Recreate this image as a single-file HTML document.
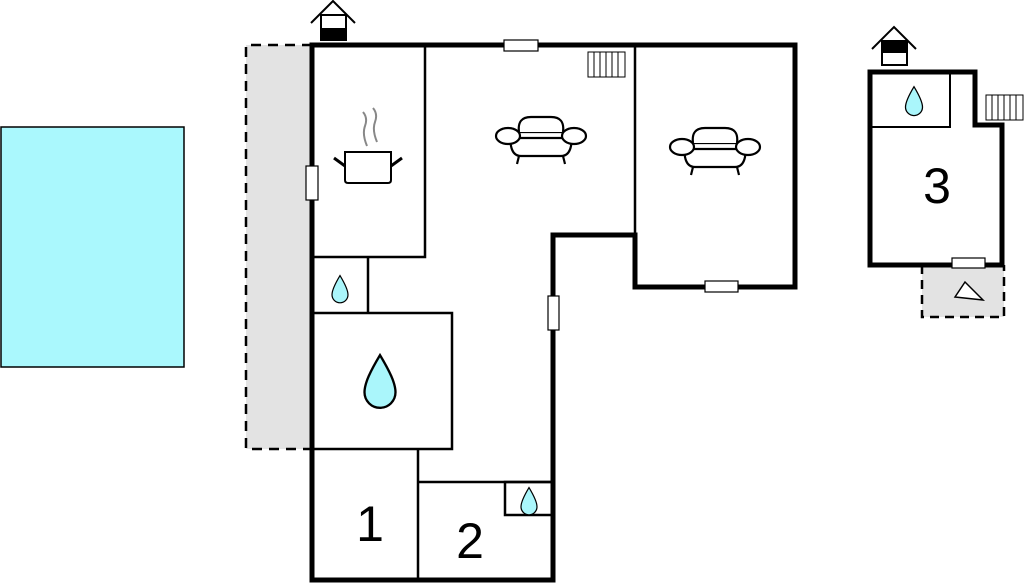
<!DOCTYPE html>
<html><head><meta charset="utf-8"><style>
html,body{margin:0;padding:0;background:#fff;}
svg{display:block;}
text{font-family:"Liberation Sans",sans-serif;}
</style></head><body>
<svg width="1024" height="584" viewBox="0 0 1024 584" xmlns="http://www.w3.org/2000/svg">
<defs>
<g id="drop"><path d="M0,-18 C6,-8 10,0 10,6 A10,10 0 0 1 -10,6 C-10,0 -6,-8 0,-18 Z" fill="#aaf6fb" stroke="#000" stroke-width="1.5"/></g>
<g id="sofa" fill="#fff" stroke="#000" stroke-width="2.2">
<path d="M-30,12 Q-32,2 -22,-2 L22,-2 Q32,2 30,12 Q28,22 20,22 L-20,22 Q-28,22 -30,12Z"/>
<path d="M-22,-2 Q-24,-17 -10,-17 L10,-17 Q24,-17 22,-2"/>
<line x1="-22" y1="4" x2="22" y2="4"/>
<ellipse cx="-33" cy="2" rx="12" ry="8"/>
<ellipse cx="33" cy="2" rx="12" ry="8"/>
<line x1="-22" y1="22" x2="-24" y2="30"/><line x1="22" y1="22" x2="24" y2="30"/>
</g>
<g id="house">
<polyline points="-22,23 0,1 22,23" fill="none" stroke="#000" stroke-width="2"/>
<rect x="-12" y="15" width="25" height="25" fill="#fff" stroke="#000" stroke-width="2"/>
<rect x="-12" y="28" width="25" height="12" fill="#000"/>
</g>
<g id="house2">
<polyline points="-22,23 0,1 22,23" fill="none" stroke="#000" stroke-width="2"/>
<rect x="-12" y="15" width="25" height="24" fill="#fff" stroke="#000" stroke-width="2"/>
<rect x="-12" y="15" width="25" height="12" fill="#000"/>
</g>
<g id="rad" fill="#fff" stroke="#000" stroke-width="1">
<rect x="0" y="0" width="37" height="25"/>
<line x1="6" y1="0" x2="6" y2="25"/><line x1="12" y1="0" x2="12" y2="25"/><line x1="18" y1="0" x2="18" y2="25"/><line x1="24" y1="0" x2="24" y2="25"/><line x1="30" y1="0" x2="30" y2="25"/>
</g>
</defs>

<rect x="1" y="127" width="183" height="240" fill="#aaf8fd" stroke="#000" stroke-width="1.5"/>

<rect x="246" y="45" width="66" height="404" fill="#e3e3e3"/>
<path d="M312,45 L246,45 L246,449 L312,449" fill="none" stroke="#000" stroke-width="2.5" stroke-dasharray="10,7"/>

<g fill="none" stroke="#000" stroke-width="2.5">
<path d="M425,45 L425,257 L312,257"/>
<path d="M368,257 L368,313"/>
<rect x="312" y="313" width="140" height="136"/>
<path d="M418,449 L418,580"/>
<path d="M418,482 L553,482"/>
<rect x="505" y="482" width="48" height="33"/>
<path d="M635,45 L635,235"/>
</g>
<path d="M312,45 L795,45 L795,287 L635,287 L635,235 L553,235 L553,580 L312,580 Z" fill="none" stroke="#000" stroke-width="5"/>

<g fill="#fff" stroke="#000" stroke-width="1.2">
<rect x="504" y="40" width="34" height="11"/>
<rect x="306" y="166" width="12" height="34"/>
<rect x="705" y="281" width="33" height="11"/>
<rect x="548" y="296" width="11" height="34"/>
</g>

<use href="#house" x="333" y="0"/>
<use href="#rad" x="588" y="52"/>
<use href="#sofa" x="541" y="134"/>
<use href="#sofa" x="715" y="145"/>

<g stroke="#000" stroke-width="2" fill="#fff">
<path d="M345,152 L391,152 L391,180 Q391,183 388,183 L348,183 Q345,183 345,180 Z"/>
<line x1="334" y1="158" x2="345" y2="166" stroke-width="3"/>
<line x1="402" y1="158" x2="391" y2="166" stroke-width="3"/>
</g>
<g stroke="#888" stroke-width="2" fill="none">
<path d="M363,112 Q368,118 365,126 Q362,134 367,146"/>
<path d="M373,108 Q378,114 375,122 Q372,130 377,142"/>
</g>

<g transform="translate(340,290) scale(0.8)"><use href="#drop"/></g>
<g transform="translate(380,383) scale(1.55)"><use href="#drop"/></g>
<g transform="translate(529,502) scale(0.8)"><use href="#drop"/></g>

<text x="370" y="541" font-size="50" text-anchor="middle">1</text>
<text x="470" y="558" font-size="50" text-anchor="middle">2</text>

<rect x="922" y="265" width="82" height="52" fill="#e3e3e3"/>
<path d="M922,265 L922,317 L1004,317 L1004,265" fill="none" stroke="#000" stroke-width="2.5" stroke-dasharray="9,6"/>
<polygon points="955,297 965,282 983,300" fill="#fff" stroke="#000" stroke-width="1.5"/>
<rect x="870" y="72" width="80" height="55" fill="none" stroke="#000" stroke-width="2"/>
<path d="M870,72 L975,72 L975,125 L1002,125 L1002,265 L870,265 Z" fill="none" stroke="#000" stroke-width="5"/>
<rect x="952" y="258" width="33" height="10" fill="#fff" stroke="#000" stroke-width="1.2"/>
<use href="#rad" x="986" y="95"/>
<g transform="translate(914,102) scale(0.85)"><use href="#drop"/></g>
<use href="#house2" x="894" y="26"/>
<text x="937" y="203" font-size="50" text-anchor="middle">3</text>
</svg>
</body></html>
